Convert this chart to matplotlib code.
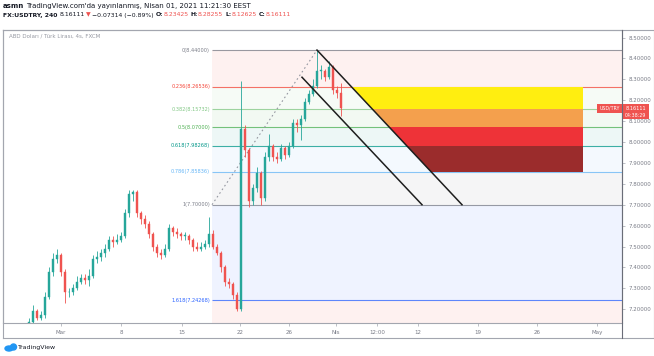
import matplotlib.pyplot as plt
from matplotlib.patches import Rectangle, Polygon, Ellipse

# USD/TRY, candles placed on a 4h-bar axis (bar 0 = Mar 1 00:00), one candle per 8h
bar_pos = list(range(-16, 141, 2))
first_open = 7.12
closes = [7.14, 7.19, 7.16, 7.17, 7.26, 7.38, 7.44, 7.46, 7.38, 7.28,
          7.28, 7.30, 7.33, 7.35, 7.34, 7.36, 7.44, 7.45, 7.47, 7.49,
          7.53, 7.52, 7.53, 7.55, 7.66, 7.75, 7.76, 7.66, 7.63, 7.61,
          7.56, 7.50, 7.47, 7.46, 7.49, 7.59, 7.57, 7.56, 7.55, 7.55,
          7.53, 7.50, 7.49, 7.50, 7.51, 7.56, 7.50, 7.47, 7.40, 7.33,
          7.32, 7.27, 7.20, 8.06, 7.96, 7.72, 7.78, 7.85, 7.73, 7.93,
          7.98, 7.93, 7.92, 7.97, 7.94, 7.98, 8.09, 8.08, 8.11, 8.19,
          8.23, 8.27, 8.34, 8.34, 8.31, 8.36, 8.25, 8.23425, 8.16111]
highs = [7.16, 7.22, 7.20, 7.19, 7.28, 7.40, 7.47, 7.49, 7.47, 7.39,
         7.30, 7.32, 7.36, 7.37, 7.37, 7.39, 7.46, 7.48, 7.49, 7.51,
         7.55, 7.55, 7.56, 7.57, 7.68, 7.77, 7.77, 7.77, 7.67, 7.65,
         7.62, 7.57, 7.51, 7.49, 7.51, 7.61, 7.60, 7.59, 7.57, 7.57,
         7.56, 7.54, 7.52, 7.52, 7.53, 7.64, 7.58, 7.51, 7.48, 7.41,
         7.35, 7.33, 7.28, 8.29, 8.08, 7.97, 7.80, 7.88, 7.86, 7.95,
         8.04, 7.99, 7.95, 7.99, 7.98, 8.00, 8.11, 8.11, 8.13, 8.21,
         8.25, 8.30, 8.44, 8.37, 8.35, 8.39, 8.37, 8.27, 8.28255]
lows = [7.11, 7.13, 7.15, 7.15, 7.16, 7.25, 7.36, 7.42, 7.36, 7.23,
        7.26, 7.27, 7.29, 7.32, 7.32, 7.31, 7.35, 7.42, 7.43, 7.45,
        7.48, 7.50, 7.51, 7.52, 7.54, 7.64, 7.72, 7.64, 7.61, 7.59,
        7.54, 7.48, 7.45, 7.44, 7.45, 7.48, 7.55, 7.54, 7.53, 7.53,
        7.51, 7.48, 7.48, 7.48, 7.49, 7.50, 7.49, 7.46, 7.38, 7.31,
        7.30, 7.25, 7.19, 7.19, 7.93, 7.69, 7.70, 7.76, 7.70, 7.72,
        7.91, 7.91, 7.90, 7.91, 7.92, 7.93, 7.97, 8.05, 8.01, 8.10,
        8.18, 8.22, 8.26, 8.30, 8.29, 8.30, 8.23, 8.21, 8.12625]

# Fibonacci retracement drawn from 7.70 (low) to 8.44 (high)
fib_low = 7.70
fib_high = 8.44
fib_ratios = [0, 0.236, 0.382, 0.5, 0.618, 0.786, 1, 1.618, 2.618]
fib_colors = ['#787b86', '#f44336', '#81c784', '#4caf50', '#009688',
              '#64b5f6', '#787b86', '#2962ff', '#f44336']
fib_start = 75.5
fib_label_x = 74.5

# descending channel
upper_x = [128, 200.5]
upper_y = [8.44, 7.70]
lower_x = [120.5, 180.5]
lower_y = [8.31, 7.70]

# colour zones between fib levels, cut on the left by the upper channel line
zone_ratios = [0.236, 0.382, 0.5, 0.618, 0.786]
zone_colors = ['#ffee10', '#f4a04d', '#ee3338', '#9b2c2c']
zone_right = 261

price_ticks = [8.5, 8.4, 8.3, 8.2, 8.1, 8.0, 7.9, 7.8, 7.7, 7.6, 7.5, 7.4, 7.3, 7.2]
time_tick_pos = [0, 30, 60.5, 89.5, 114, 137.5, 158, 178.5, 208.5, 238, 268]
time_tick_labels = ['Mar', '8', '15', '22', '26', 'Nis', '12:00', '12', '19', '26', 'May']

W, H = 654, 356
UP = '#26a69a'
DOWN = '#ef5350'
GRAY = '#787b86'
FRAME = '#a3a6af'

plt.rcParams['font.family'] = ['DejaVu Sans']

fig = plt.figure(figsize=(W / 100, H / 100), dpi=100)


def px_box(x0, y0, x1, y1):
    return [x0 / W, 1 - y1 / H, (x1 - x0) / W, (y1 - y0) / H]


ax = fig.add_axes(px_box(3, 30, 622, 323))
ax.set_xlim(-29, 280.5)
ax.set_ylim(7.134, 8.536)

# fib levels, fills and labels
fib_prices = [fib_high - r * (fib_high - fib_low) for r in fib_ratios]
x_end = 280.5
for i in range(1, len(fib_prices)):
    ax.fill_between([fib_start, x_end], fib_prices[i - 1], fib_prices[i],
                    color=fib_colors[i], alpha=0.07, lw=0, zorder=0)
for r, p, c in zip(fib_ratios, fib_prices, fib_colors):
    if r > 2:
        continue
    ax.hlines(p, fib_start, x_end, color=c, lw=0.8, alpha=0.75, zorder=1)
    ax.text(fib_label_x, p, f'{r:g}({p:.5f})', color=c, fontsize=3.6,
            ha='right', va='center', zorder=1)

# dotted trend line of the fib tool
ax.plot([fib_start, upper_x[0]], [fib_low, fib_high], color='#9598a1',
        lw=0.8, ls=(0, (1.5, 2.5)), zorder=1)

# colour zones
slope = (upper_y[1] - upper_y[0]) / (upper_x[1] - upper_x[0])


def channel_x(p):
    return upper_x[0] + (p - upper_y[0]) / slope


for j, col in enumerate(zone_colors):
    p_top = fib_high - zone_ratios[j] * (fib_high - fib_low)
    p_bot = fib_high - zone_ratios[j + 1] * (fib_high - fib_low)
    poly = Polygon([(channel_x(p_top), p_top), (zone_right, p_top),
                    (zone_right, p_bot), (channel_x(p_bot), p_bot)],
                   closed=True, facecolor=col, edgecolor='none', zorder=2)
    ax.add_patch(poly)

# candles
opens = [first_open] + closes[:-1]
for x, o, c, h, l in zip(bar_pos, opens, closes, highs, lows):
    col = UP if c >= o else DOWN
    ax.vlines(x, l, h, color=col, lw=0.6, zorder=3)
    ax.add_patch(Rectangle((x - 0.6, min(o, c)), 1.2, max(abs(c - o), 0.003),
                           facecolor=col, edgecolor=col, lw=0.3, zorder=3))

# channel lines
ax.plot(upper_x, upper_y, color='#1e1e1e', lw=1.1, zorder=4)
ax.plot(lower_x, lower_y, color='#1e1e1e', lw=1.1, zorder=4)

# axes styling
for s in ax.spines.values():
    s.set_color(FRAME)
    s.set_linewidth(0.8)
ax.set_yticks(price_ticks)
ax.set_yticklabels([f'{p:.5f}' for p in price_ticks])
ax.tick_params(axis='y', left=False, labelleft=False, right=True, labelright=True,
               length=2, width=0.5, pad=3, labelsize=4, colors=FRAME, labelcolor=GRAY)
ax.set_xticks(time_tick_pos)
ax.set_xticklabels(time_tick_labels)
ax.tick_params(axis='x', length=2, width=0.5, pad=3, labelsize=4,
               colors=FRAME, labelcolor=GRAY)

ax.text(-26, 8.505, 'ABD Doları / Türk Lirası, 4s, FXCM', fontsize=4,
        color='#9598a1', ha='left', va='center')

# overlay in pixel units for the frame, header and price label
ov = fig.add_axes([0, 0, 1, 1], zorder=5)
ov.set_xlim(0, W)
ov.set_ylim(H, 0)
ov.set_axis_off()
ov.patch.set_alpha(0)
ov.plot([3, 654], [30, 30], color=FRAME, lw=0.8)
ov.plot([3, 3], [30, 338], color=FRAME, lw=0.8)
ov.plot([3, 654], [338, 338], color=FRAME, lw=0.8)
ov.plot([622, 622], [30, 338], color='#6a6d78', lw=0.8)
ov.plot([653.5, 653.5], [30, 338], color=FRAME, lw=0.8)

renderer = fig.canvas.get_renderer()


def text_run(x, y, pieces, size):
    for s, color, weight, gap in pieces:
        t = ov.text(x, y, s, color=color, fontsize=size, fontweight=weight,
                    ha='left', va='center')
        x += t.get_window_extent(renderer).width + gap


DARK = '#131722'
text_run(3, 6, [('asmn', DARK, 'bold', 2),
                ("TradingView.com'da yayınlanmış, Nisan 01, 2021 11:21:30 EEST", DARK, 'normal', 0)], 5)
text_run(3, 15, [('FX:USDTRY, 240', DARK, 'bold', 2), ('8.16111', DARK, 'normal', 1.5),
                 ('▼', DOWN, 'normal', 1.5), ('−0.07314 (−0.89%)', DARK, 'normal', 2),
                 ('O:', DARK, 'bold', 0), ('8.23425', DOWN, 'normal', 2),
                 ('H:', DARK, 'bold', 0), ('8.28255', DOWN, 'normal', 2),
                 ('L:', DARK, 'bold', 0), ('8.12625', DOWN, 'normal', 2),
                 ('C:', DARK, 'bold', 0), ('8.16111', DOWN, 'normal', 0)], 4.4)

# last price label on the price scale
last = closes[-1]
yc = H - ax.transData.transform((0, last))[1]
ov.add_patch(Rectangle((597, yc - 4.5), 25, 9, facecolor=DOWN, edgecolor='none'))
ov.add_patch(Rectangle((622, yc - 4.5), 27, 15, facecolor=DOWN, edgecolor='none'))
ov.text(609.5, yc, 'USD/TRY', color='white', fontsize=3.4, ha='center', va='center')
ov.text(635.5, yc, f'{last:.5f}', color='white', fontsize=3.6, ha='center', va='center')
ov.text(635.5, yc + 7, '04:38:29', color='white', fontsize=3.4, ha='center', va='center')

# TradingView logo
ov.add_patch(Ellipse((9, 348.5), 8, 5, color='#2196f3'))
ov.add_patch(Ellipse((13.5, 347), 6, 6, color='#2196f3'))
ov.text(18, 348, 'TradingView', color=DARK, fontsize=4.5, ha='left', va='center')

fig.savefig('out.png', dpi=100)
